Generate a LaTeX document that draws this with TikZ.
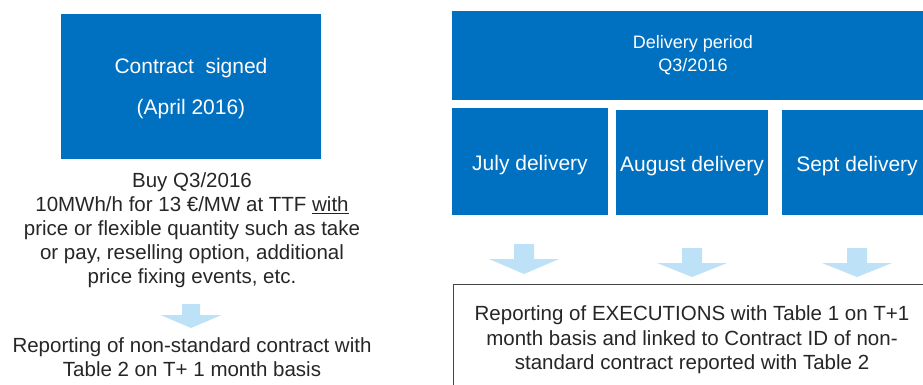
\documentclass[tikz,border=0pt]{standalone}
\usepackage{fontspec}
\setmainfont{Liberation Sans}
\definecolor{boxblue}{HTML}{0070C0}
\definecolor{arrowblue}{HTML}{BDE1F6}
\definecolor{frame}{HTML}{454545}
\tikzset{
  bluebox/.style={fill=boxblue, text=white, inner sep=0pt, align=center},
  plaintext/.style={text=black!85, inner sep=0pt, align=center, font=\fontsize{20.5}{24}\selectfont},
  reportbox/.style={draw=frame, line width=1.3pt, fill=white, inner sep=0pt, align=center},
  pics/blockarrow/.style n args={4}{code={
    % #1 half width, #2 half stem, #3 head length, #4 stem length
    \fill[arrowblue] (-#2,0) -- (#2,0) -- (#2,#4) -- (#1,#4) -- (0,#4+#3) -- (-#1,#4) -- (-#2,#4) -- cycle;
  }}
}
\begin{document}
\begin{tikzpicture}[x=1pt,y=-1pt]
\useasboundingbox (0,0) rectangle (923,385);
% left column
\node[bluebox, minimum width=260pt, minimum height=145pt, text depth=0pt,
      font=\fontsize{21}{41}\selectfont] (contract) at (191,86.5)
  {Contract\ \ signed\\(April 2016)};
\node[plaintext, anchor=north] (buy) at (192,172.5)
  {Buy Q3/2016\\10MWh/h for 13 €/MW at TTF \underline{with}\\price or flexible quantity such as take\\or pay, reselling option, additional\\price fixing events, etc.};
\coordinate (la) at (191,304);
\pic at (la) {blockarrow={30.5}{9}{13}{11}};
\node[plaintext, anchor=north] (rep1) at (192,337.5)
  {Reporting of non-standard contract with\\Table 2 on T+ 1 month basis};
% right column
\node[bluebox, minimum width=482pt, minimum height=89pt,
      font=\fontsize{18}{23}\selectfont] (period) at (693,55.5)
  {Delivery period\\Q3/2016};
\tikzset{monthbox/.style={bluebox, text height=18pt, text depth=0pt, font=\fontsize{21}{24}\selectfont}}
\node[monthbox, minimum width=156pt, minimum height=107pt] (july) at (530,161.5) {July delivery};
\node[monthbox, minimum width=152pt, minimum height=105pt] (aug) at (692,162.5) {August delivery};
\node[monthbox, minimum width=150pt, minimum height=105pt] (sept) at (857,162.5) {Sept delivery};
\pic at (524,244) {blockarrow={35}{10}{15}{15}};
\pic at (692,248) {blockarrow={35}{10}{14}{15}};
\pic at (857,248) {blockarrow={35}{10}{14}{15}};
\node[reportbox, minimum width=477pt, minimum height=110pt, anchor=north west] (rep2) at (453,284) {};
\node[plaintext, font=\fontsize{20.5}{24.5}\selectfont, anchor=north] (rep2text) at (692,305.5)
  {Reporting of EXECUTIONS with Table 1 on T+1\\month basis and linked to Contract ID of non-\\standard contract reported with Table 2};
\end{tikzpicture}
\end{document}
